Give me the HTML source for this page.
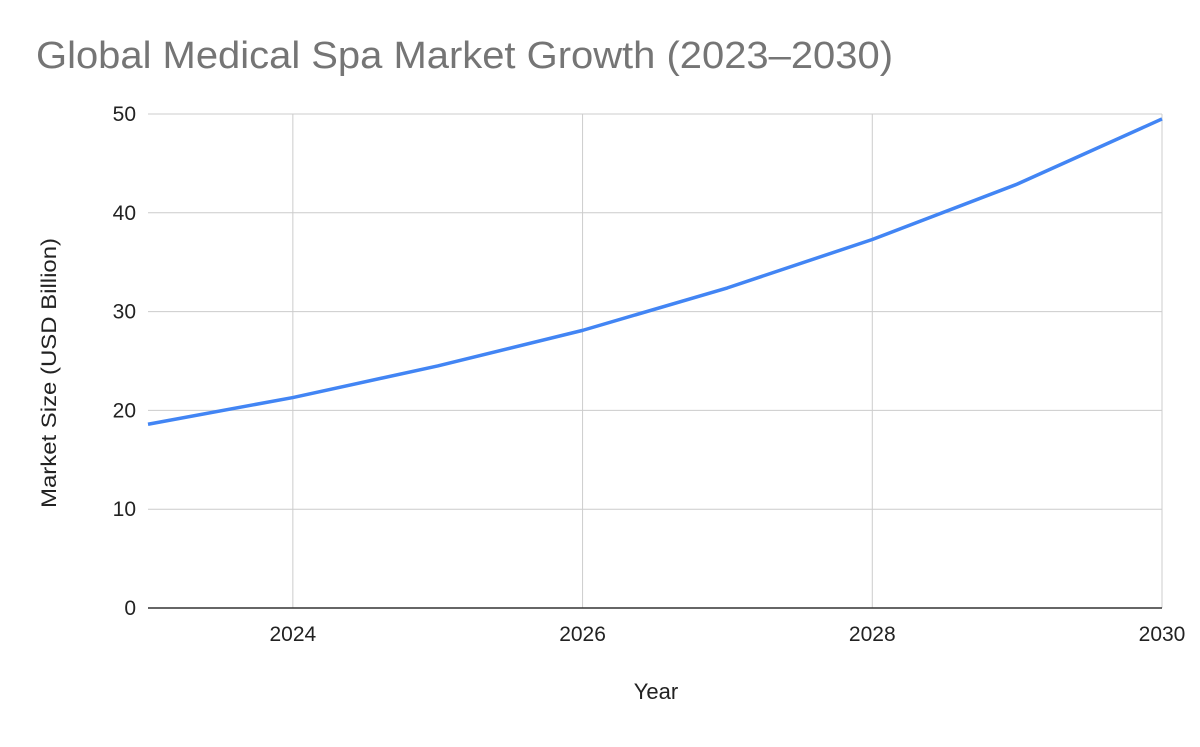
<!DOCTYPE html>
<html><head><meta charset="utf-8"><style>
body{margin:0;background:#fff;font-family:"Liberation Sans",Arial,sans-serif}
svg text{font-family:"Liberation Sans",Arial,sans-serif}
</style></head><body>
<svg id="chart" width="1200" height="742" viewBox="0 0 1200 742">
<text x="36" y="68" font-size="38" textLength="857" lengthAdjust="spacingAndGlyphs" fill="#757575">Global Medical Spa Market Growth (2023–2030)</text>
<g id="grid"></g><g id="axes"></g><g id="series"></g>
<text x="656" y="699" font-size="22" text-anchor="middle" fill="#222">Year</text>
<text transform="translate(56,373) rotate(-90)" font-size="21" textLength="270" lengthAdjust="spacingAndGlyphs" text-anchor="middle" fill="#222">Market Size (USD Billion)</text>
</svg>
<script>
const years=[2023,2024,2025,2026,2027,2028,2029,2030];
const values=[18.6,21.3,24.5,28.1,32.4,37.3,42.9,49.5];
const yTicks=[0,10,20,30,40,50];
const xTicks=[2024,2026,2028,2030];
const NS="http://www.w3.org/2000/svg";
const x0=148,x1=1162,yb=608,yt=114;
const xs=v=>x0+(v-2023)/(2030-2023)*(x1-x0);
const ys=v=>yb-v/50*(yb-yt);
const grid=document.getElementById('grid'),axes=document.getElementById('axes'),ser=document.getElementById('series');
function mk(t,a,p){const e=document.createElementNS(NS,t);for(const k in a)e.setAttribute(k,a[k]);p.appendChild(e);return e;}
yTicks.forEach(v=>{
 if(v>0){const l=mk('line',{x1:x0,x2:x1,y1:ys(v),y2:ys(v),stroke:'#cccccc','stroke-width':1},grid);
 
 }
 const t=mk('text',{x:x0-12,y:ys(v)+7,'font-size':21,'text-anchor':'end',fill:'#222'},axes);t.textContent=v;
 
 
});
xTicks.forEach(v=>{
 const l=mk('line',{x1:xs(v),x2:xs(v),y1:yt,y2:yb,stroke:'#cccccc','stroke-width':1},grid);
 
 
 const t=mk('text',{x:xs(v),y:641,'font-size':21,'text-anchor':'middle',fill:'#222'},axes);t.textContent=v;
 
 
});
const base=mk('line',{x1:x0,x2:x1,y1:yb,y2:yb,stroke:'#333','stroke-width':1.5},axes);


const pts=years.map((y,i)=>xs(y)+','+ys(values[i])).join(' ');
const pl=mk('polyline',{points:pts,fill:'none',stroke:'#4285f4','stroke-width':3.5,'stroke-linejoin':'round'},ser);


</script>
</body></html>
